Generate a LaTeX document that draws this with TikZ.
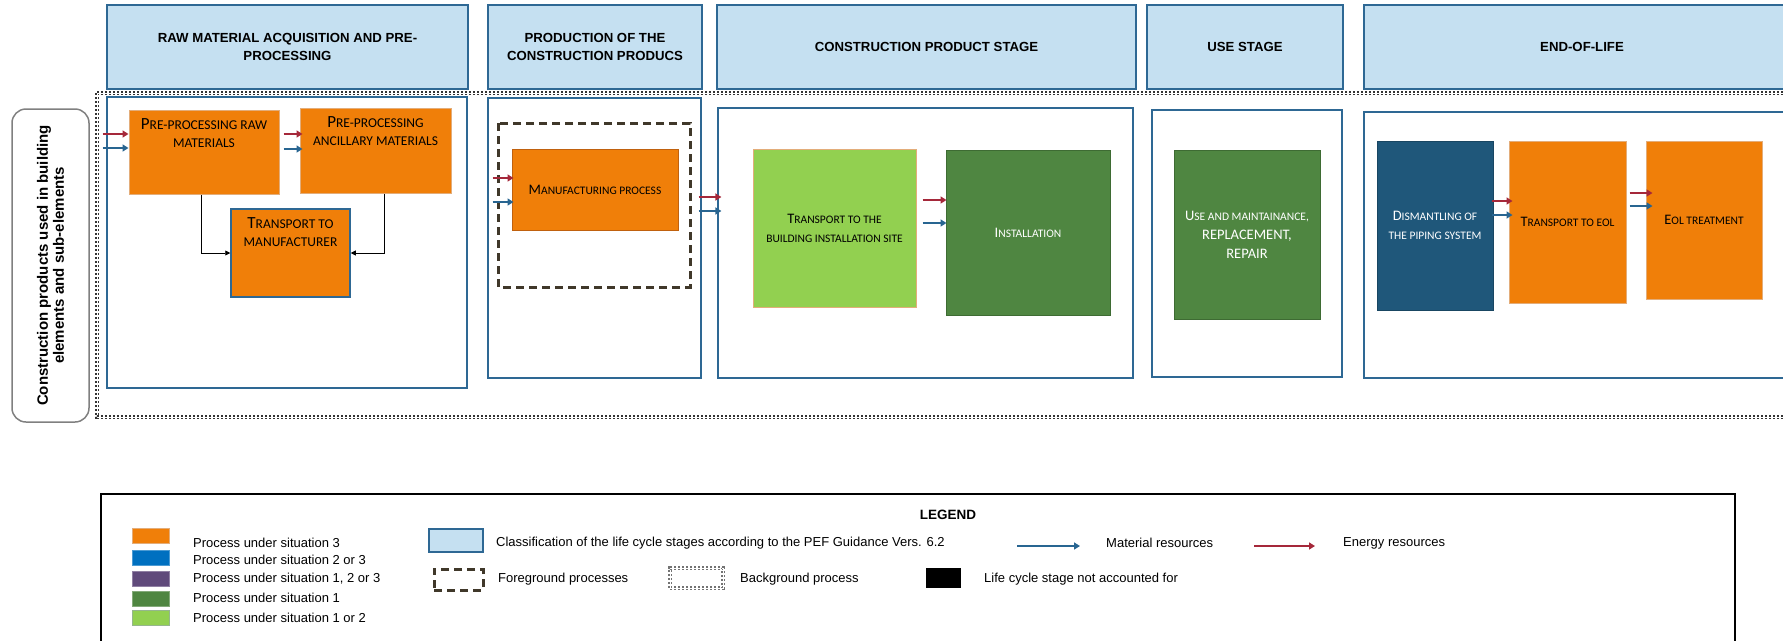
\documentclass[tikz,border=0pt]{standalone}
\usepackage{fontspec}
\setmainfont{Liberation Sans}
\newfontfamily\procfont{Carlito}
\usetikzlibrary{positioning,arrows.meta}

\definecolor{headblue}{HTML}{C5E0F1}
\definecolor{stageblue}{HTML}{2E6894}
\definecolor{orange3}{HTML}{F07F09}
\definecolor{tanline}{HTML}{E3AD7A}
\definecolor{rustline}{HTML}{C0610E}
\definecolor{limegreen}{HTML}{92D050}
\definecolor{darkgreen}{HTML}{4F8641}
\definecolor{greenline}{HTML}{3E6B33}
\definecolor{navyproc}{HTML}{1F577A}
\definecolor{energyred}{HTML}{A5283A}
\definecolor{materialblue}{HTML}{286591}
\definecolor{fgbrown}{HTML}{40382A}
\definecolor{sit23}{HTML}{0070C0}
\definecolor{sit123}{HTML}{604A7B}

% fake small caps: lower part of a word set as smaller capitals
\newcommand\smcpt{11.5}
\newcommand\smc[1]{{\fontsize{\smcpt}{\smcpt}\selectfont\MakeUppercase{#1}}}

\begin{document}
\begin{tikzpicture}[x=1pt, y=-1pt,
    head/.style={draw=stageblue, fill=headblue, line width=1.2pt, inner sep=0pt,
        align=center, font=\bfseries\fontsize{13.2}{18}\selectfont},
    stagebox/.style={draw=stageblue, line width=1.2pt, inner sep=0pt},
    proc/.style={inner sep=0pt, align=center, line width=1pt,
        font=\procfont\fontsize{14.5}{19}\selectfont},
    proctop/.style={inner sep=0pt, align=center,
        font=\procfont\fontsize{17}{18}\selectfont\def\smcpt{13.5}},
    sitthree/.style={proc, fill=orange3, draw=tanline},
    sitone/.style={proc, fill=darkgreen, draw=greenline, text=white},
    sitonetwo/.style={proc, fill=limegreen, draw=tanline},
    sitnavy/.style={proc, fill=navyproc, draw=navyproc!80!black, text=white},
    energy/.style={draw=energyred, line width=2pt, -{Triangle[length=6pt,width=7pt]}},
    material/.style={draw=materialblue, line width=2pt, -{Triangle[length=6pt,width=7pt]}},
    link/.style={draw=black, line width=0.8pt, -{Triangle[length=5pt,width=5pt]}},
    background/.style={draw=black!80, double=white, double distance=1pt,
        line width=1.1pt, dash pattern=on 2.4pt off 1.6pt},
    foreground/.style={draw=fgbrown, line width=3pt, dash pattern=on 8pt off 5pt},
    swatch/.style={minimum width=37pt, minimum height=15pt, inner sep=0pt, line width=0.8pt},
    legtext/.style={anchor=west, inner sep=0pt, font=\fontsize{13}{15}\selectfont}
]
\useasboundingbox (0,0) rectangle (1783,640);
\clip (0,0) rectangle (1783,640);

% background processes
\draw[background] (97,93) rectangle (1800,417);

% life cycle stage headers
\node[head, minimum width=361pt, minimum height=84pt] (hraw) at (287.5,47) {RAW MATERIAL ACQUISITION AND PRE-\\PROCESSING};
\node[head, minimum width=214pt, minimum height=84pt] (hprod) at (595,47) {PRODUCTION OF THE\\CONSTRUCTION PRODUCS};
\node[head, minimum width=419pt, minimum height=84pt] (hcons) at (926.5,47) {CONSTRUCTION PRODUCT STAGE};
\node[head, minimum width=196pt, minimum height=84pt] (huse) at (1245,47) {USE STAGE};
\node[head, minimum width=436pt, minimum height=84pt] (heol) at (1582,47) {END-OF-LIFE};

% stage frames
\node[stagebox, minimum width=360pt, minimum height=291pt] (sraw) at (287,242.5) {};
\node[stagebox, minimum width=213pt, minimum height=280pt] (sprod) at (594.5,238) {};
\node[stagebox, minimum width=415pt, minimum height=270pt] (scons) at (925.5,243) {};
\node[stagebox, minimum width=190pt, minimum height=267pt] (suse) at (1247,243.5) {};
\node[stagebox, minimum width=436pt, minimum height=266pt] (seol) at (1582,245) {};

% system boundary label
\node[draw=gray, line width=1.5pt, rounded corners=14pt, rotate=90, inner sep=0pt,
      minimum width=313pt, minimum height=77pt, align=center,
      font=\bfseries\fontsize{15}{16}\selectfont] (prodscope) at (50.5,265.5)
      {Construction products used in building\\elements and sub-elements};

% raw material acquisition
\node[sitthree, minimum width=150pt, minimum height=84pt] (raw) at (204,152) {};
\node[proctop, below=9pt of raw.north] (rawtxt) {P\smc{re-processing raw}\\\smc{materials}};
\node[sitthree, minimum width=151pt, minimum height=85pt] (anc) at (375.5,150.5) {};
\node[proctop, below=9pt of anc.north] (anctxt) {P\smc{re-processing}\\\smc{ancillary materials}};
\node[sitthree, draw=stageblue, line width=1.5pt, minimum width=119pt, minimum height=88pt] (trans) at (290.5,253) {};
\node[proctop, below=9pt of trans.north] (transtxt) {T\smc{ransport to}\\\smc{manufacturer}};

% production
\draw[foreground] (498,123) rectangle (690,287);
\node[sitthree, draw=rustline, minimum width=166pt, minimum height=81pt] (manu) at (595,189.5) {M\smc{anufacturing process}};

% construction
\node[sitonetwo, minimum width=163pt, minimum height=158pt] (site) at (834.5,228) {T\smc{ransport to the}\\\smc{building installation site}};
\node[sitone, minimum width=164pt, minimum height=165pt] (inst) at (1028,232.5) {I\smc{nstallation}};

% use
\node[sitone, minimum width=146pt, minimum height=169pt] (use) at (1247,234.5) {U\smc{se and maintainance,}\\REPLACEMENT,\\REPAIR};

% end of life
\node[sitnavy, minimum width=116pt, minimum height=169pt] (dism) at (1435,225.5) {D\smc{ismantling of}\\\smc{the piping system}};
\node[sitthree, minimum width=117pt, minimum height=162pt] (teol) at (1567.5,222) {T\smc{ransport to eol}};
\node[sitthree, minimum width=116pt, minimum height=158pt] (eolt) at (1704,220) {E\smc{ol treatment}};

% transport flows
\draw[link] ([xshift=-3pt]raw.south) |- (trans.west);
\draw[link] ([xshift=8.5pt]anc.south) |- (trans.east);

% energy and material inputs
\draw[energy] ([xshift=-26pt,yshift=18pt]raw.west) -- ([yshift=18pt]raw.west);
\draw[material] ([xshift=-26pt,yshift=4pt]raw.west) -- ([yshift=4pt]raw.west);
\draw[energy] ([xshift=4pt,yshift=18pt]raw.east) -- ([xshift=3pt,yshift=18pt]raw.east -| anc.west);
\draw[material] ([xshift=4pt,yshift=3pt]raw.east) -- ([xshift=3pt,yshift=3pt]raw.east -| anc.west);
\draw[energy] ([xshift=-19pt,yshift=11.5pt]manu.west) -- ([xshift=2pt,yshift=11.5pt]manu.west);
\draw[material] ([xshift=-19pt,yshift=-12.5pt]manu.west) -- ([xshift=2pt,yshift=-12.5pt]manu.west);
\draw[energy] ([xshift=-3pt,yshift=41pt]sprod.east) -- ([xshift=4pt,yshift=41pt]sprod.east -| scons.west);
\draw[material] ([xshift=-3pt,yshift=27pt]sprod.east) -- ([xshift=4pt,yshift=27pt]sprod.east -| scons.west);
\draw[energy] ([xshift=6pt,yshift=28pt]site.east) -- ([xshift=1pt,yshift=28pt]site.east -| inst.west);
\draw[material] ([xshift=6pt,yshift=5pt]site.east) -- ([xshift=1pt,yshift=5pt]site.east -| inst.west);
\draw[energy] ([xshift=-2pt,yshift=24.5pt]dism.east) -- ([xshift=4pt,yshift=24.5pt]dism.east -| teol.west);
\draw[material] ([xshift=-2pt,yshift=10.5pt]dism.east) -- ([xshift=4pt,yshift=10.5pt]dism.east -| teol.west);
\draw[energy] ([xshift=3pt,yshift=29pt]teol.east) -- ([xshift=7pt,yshift=29pt]teol.east -| eolt.west);
\draw[material] ([xshift=3pt,yshift=16pt]teol.east) -- ([xshift=7pt,yshift=16pt]teol.east -| eolt.west);

% legend
\draw[line width=1.2pt] (101,494) rectangle (1735,650);
\node[font=\bfseries\fontsize{13.5}{15}\selectfont] (legtitle) at (948,515) {LEGEND};

\node[swatch, fill=orange3, draw=tanline] (lgthree) at (150.5,536) {};
\node[swatch, fill=sit23, draw=sit23!70!white] (lgtwothree) at (150.5,557.5) {};
\node[swatch, fill=sit123, draw=sit123!70!white] (lgall) at (150.5,578.5) {};
\node[swatch, fill=darkgreen, draw=darkgreen!70!white] (lgone) at (150.5,598.5) {};
\node[swatch, fill=limegreen, draw=darkgreen!60!white] (lgonetwo) at (150.5,618) {};
\node[legtext] (lgthreetxt) at (193,543) {Process under situation 3};
\node[legtext] (lgtwothreetxt) at (193,560) {Process under situation 2 or 3};
\node[legtext] (lgalltxt) at (193,579) {Process under situation 1, 2 or 3};
\node[legtext] (lgonetxt) at (193,598) {Process under situation 1};
\node[legtext] (lgonetwotxt) at (193,618) {Process under situation 1 or 2};

\node[swatch, fill=headblue, draw=stageblue, line width=1.2pt, minimum width=54pt, minimum height=23pt] (lgstage) at (456,540.5) {};
\node[legtext] (lgstagetxt) at (496,543) {Classification of the life cycle stages according to the PEF Guidance Vers. 6.2};
\node[swatch, foreground, minimum width=49pt, minimum height=21pt] (lgfore) at (458.5,579.5) {};
\node[legtext] (lgforetxt) at (498,579) {Foreground processes};
\node[swatch, background, draw=black!55, minimum width=53pt, minimum height=20pt] (lgback) at (696.5,578) {};
\node[legtext] (lgbacktxt) at (740,579) {Background process};
\node[swatch, fill=black, minimum width=35pt, minimum height=20pt] (lgnone) at (943.5,578) {};
\node[legtext] (lgnonetxt) at (984,579) {Life cycle stage not accounted for};

\coordinate (matstart) at (1017,546);
\coordinate (matend) at (1080,546);
\draw[material, line width=1.6pt] (matstart) -- (matend);
\node[legtext] (mattxt) at (1106,543) {Material resources};
\coordinate (enstart) at (1254,546);
\coordinate (enend) at (1315,546);
\draw[energy, line width=1.6pt] (enstart) -- (enend);
\node[legtext] (entxt) at (1343,543) {Energy resources};
\end{tikzpicture}
\end{document}
